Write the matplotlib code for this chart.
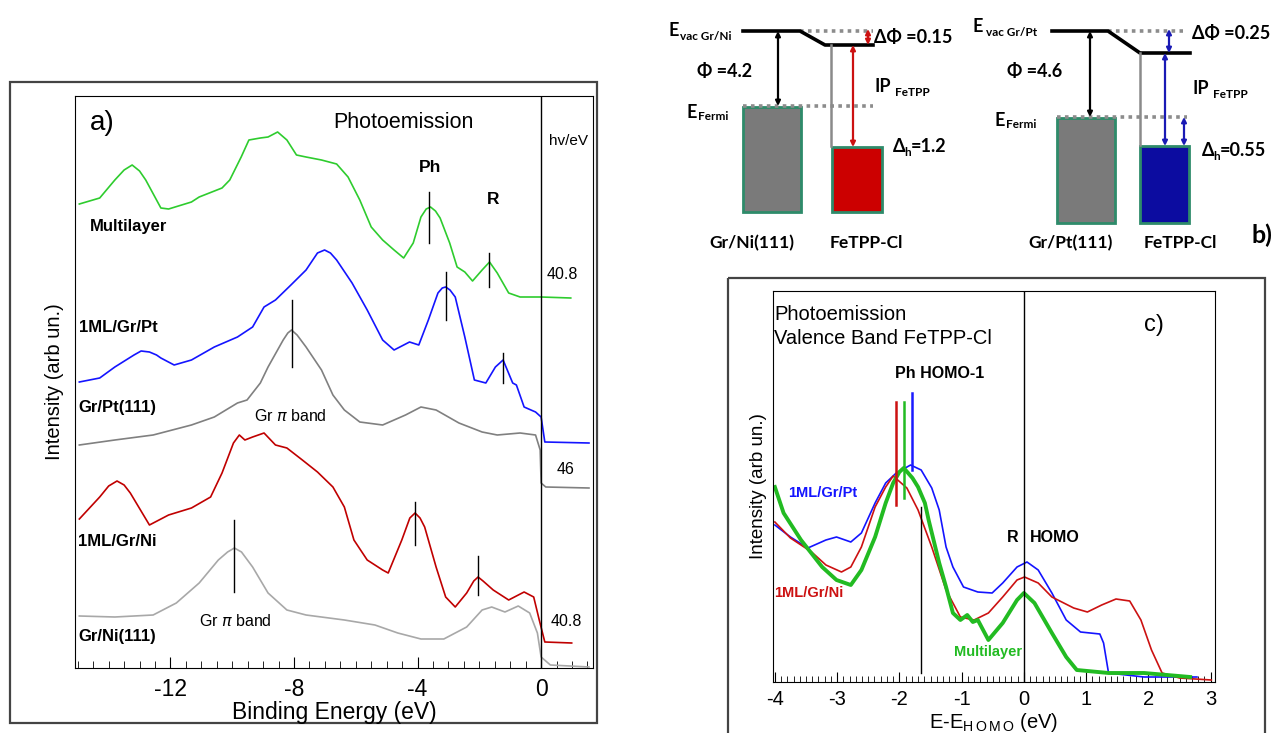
import matplotlib.pyplot as plt
from matplotlib.patches import Rectangle
from matplotlib.ticker import MultipleLocator

plt.rcParams['font.family'] = ['Liberation Sans', 'DejaVu Sans']

W, H = 1276, 733

# ---------------- panel a) : valence band, binding energy (eV) / intensity (arb. un.)
ml_x = [-14.95, -14.29, -13.8, -13.5, -13.24, -13.0, -12.8, -12.31, -12.06, -11.32, -11.07, -10.33, -10.08, -9.71,
        -9.46, -9.09, -8.84, -8.53, -8.23, -7.92, -7.61, -7.11, -6.62, -6.25, -5.87, -5.5, -5.13, -4.76, -4.45,
        -4.14, -3.89, -3.72, -3.58, -3.42, -3.27, -2.96, -2.72, -2.47, -2.22, -1.91, -1.67, -1.42, -1.05, -0.68,
        0, 0.96]
ml_y = [464, 470, 488, 498, 503, 497, 488, 460, 459, 466, 471, 480, 488, 511, 528, 530, 531, 536, 528, 513, 511,
        508, 504, 491, 468, 441, 428, 418, 410, 425, 451, 459, 461, 457, 450, 425, 401, 396, 387, 398, 406, 395,
        375, 371, 371, 370]

pt_x = [-14.95, -14.29, -13.8, -13.18, -12.95, -12.68, -12.45, -12.31, -11.88, -11.32, -10.58, -9.83, -9.34,
        -8.97, -8.6, -8.1, -7.61, -7.24, -7.01, -6.82, -6.62, -6.12, -5.63, -5.13, -4.76, -4.26, -3.96, -3.65,
        -3.34, -3.2, -3.09, -2.95, -2.78, -2.47, -2.16, -1.79, -1.48, -1.23, -0.92, -0.8, -0.55, -0.18, 0,
        0.12, 1.55]
pt_y = [286, 290, 301, 313, 317, 316, 313, 310, 303, 308, 321, 331, 341, 361, 368, 383, 398, 415, 418, 415, 408,
        385, 358, 328, 318, 326, 323, 348, 375, 380, 381, 378, 371, 331, 288, 285, 301, 308, 285, 283, 261, 256,
        251, 226, 225]

grpt_x = [-14.95, -13.8, -12.56, -11.32, -10.58, -9.83, -9.52, -9.09, -8.84, -8.35, -8.2, -8.08, -7.9, -7.61,
          -7.11, -6.74, -6.37, -5.87, -5.13, -4.39, -3.89, -3.4, -2.66, -1.91, -1.42, -0.68, -0.18, -0.03, 0,
          0.15, 1.55]
grpt_y = [223, 228, 233, 243, 251, 265, 268, 285, 301, 328, 335, 338, 333, 321, 298, 273, 258, 246, 243, 253,
          261, 258, 245, 236, 233, 235, 233, 218, 185, 181, 180]

ni_x = [-14.95, -14.29, -14.0, -13.73, -13.5, -13.3, -12.68, -12.06, -11.32, -10.7, -10.33, -9.96, -9.77, -9.59,
        -9.34, -8.97, -8.6, -8.23, -7.73, -7.24, -6.74, -6.37, -6.06, -5.63, -5.13, -4.95, -4.51, -4.25, -4.08,
        -3.92, -3.77, -3.4, -3.09, -2.78, -2.41, -2.18, -2.04, -1.88, -1.55, -1.05, -0.55, -0.24, -0.06, 0.12,
        0.99]
ni_y = [149, 171, 182, 187, 183, 175, 143, 153, 160, 171, 195, 225, 233, 228, 231, 235, 223, 220, 208, 196, 181,
        161, 128, 108, 98, 95, 128, 150, 155, 150, 141, 101, 71, 61, 75, 87, 91, 87, 78, 68, 76, 71, 48, 26, 25]

grni_x = [-14.95, -13.8, -12.56, -11.81, -11.07, -10.45, -10.15, -9.93, -9.7, -9.34, -8.84, -8.23, -7.61, -6.37,
          -5.38, -4.64, -3.89, -3.15, -2.41, -1.91, -1.6, -1.17, -0.74, -0.37, -0.12, 0, 0.3, 1.55]
grni_y = [52, 51, 53, 65, 85, 108, 116, 120, 116, 101, 75, 58, 53, 48, 43, 35, 29, 29, 41, 58, 61, 56, 62, 55,
          35, 11, 3, 1]

# peak markers (energy, y from, y to)
a_marks = [(-3.62, 425, 476), (-1.69, 381, 415), (-3.09, 348, 396), (-1.23, 285, 315),
           (-8.08, 301, 368), (-4.08, 123, 166), (-2.04, 73, 112), (-9.93, 76, 148)]

# ---------------- panel c) : E - E_HOMO (eV)
cml_x = [-4.0, -3.86, -3.58, -3.24, -3.01, -2.78, -2.61, -2.39, -2.22, -2.1, -2.0, -1.93, -1.79, -1.7, -1.59,
         -1.53, -1.36, -1.25, -1.14, -1.02, -0.91, -0.82, -0.74, -0.57, -0.34, -0.11, 0, 0.17, 0.45, 0.68, 0.85,
         1.36, 1.93, 2.67]
cml_y = [195, 169, 142, 115, 102, 97, 112, 145, 179, 199, 210, 214, 204, 195, 179, 162, 119, 95, 69, 62, 67, 60,
         62, 42, 59, 82, 89, 79, 49, 25, 12, 9, 9, 5]

cpt_x = [-4.0, -3.75, -3.47, -3.18, -3.01, -2.78, -2.61, -2.39, -2.22, -2.05, -1.82, -1.65, -1.48, -1.36, -1.25,
         -1.14, -0.97, -0.74, -0.51, -0.34, -0.11, 0.05, 0.23, 0.45, 0.68, 0.91, 1.22, 1.28, 1.36, 1.93, 2.78]
cpt_y = [157, 145, 134, 142, 145, 140, 149, 179, 199, 209, 217, 212, 194, 172, 135, 115, 95, 90, 89, 99, 115, 120,
         112, 89, 62, 50, 48, 39, 9, 5, 5]

cni_x = [-4.0, -3.75, -3.41, -3.18, -2.93, -2.78, -2.61, -2.39, -2.22, -2.1, -1.88, -1.7, -1.48, -1.25, -1.02,
         -0.8, -0.57, -0.34, -0.11, 0.01, 0.23, 0.45, 0.8, 1.02, 1.25, 1.48, 1.7, 1.88, 2.05, 2.22, 2.5, 3.01]
cni_y = [160, 144, 130, 117, 110, 115, 135, 175, 195, 206, 194, 172, 135, 92, 65, 62, 69, 85, 102, 105, 99, 85,
         74, 70, 77, 83, 81, 62, 32, 9, 4, 2]

c_marks = [(-2.05, 177, 280, '#cc1111'), (-1.93, 184, 280, '#22bb22'), (-1.8, 212, 289, '#1a1aff'),
           (-1.65, 9, 175, 'k')]

# ---------------- panel b) : energy level schemes
b_phi = [4.2, 4.6]
b_dphi = [0.15, 0.25]
b_dh = [1.2, 0.55]
b_tag = ['Gr/Ni', 'Gr/Pt']
b_sub = ['Gr/Ni(111)', 'Gr/Pt(111)']
b_fill = ['#cc0000', '#0c0ca0']
b_arrow = ['#cc1111', '#1a1ab5']

GREEN = '#2ecc2e'
BLUE = '#1414ff'
RED = '#cc1111'

fig = plt.figure(figsize=(W / 100, H / 100), dpi=100)


def px_axes(l, t, r, b):
    return fig.add_axes([l / W, 1 - b / H, (r - l) / W, (b - t) / H])


bg = fig.add_axes([0, 0, 1, 1])
bg.set_xlim(0, W)
bg.set_ylim(H, 0)
bg.axis('off')
bg.add_patch(Rectangle((10, 82), 587, 641, fill=False, ec='#444444', lw=1.6))
bg.add_patch(Rectangle((728, 278), 537, 480, fill=False, ec='#444444', lw=1.6))

# ---- a)
axa = px_axes(75, 96, 593, 668)
axa.set_facecolor('none')
axa.plot(ml_x, ml_y, color=GREEN, lw=1.2)
axa.plot(pt_x, pt_y, color=BLUE, lw=1.2)
axa.plot(grpt_x, grpt_y, color='#808080', lw=1.2)
axa.plot(ni_x, ni_y, color='#c00000', lw=1.2)
axa.plot(grni_x, grni_y, color='#a8a8a8', lw=1.2)
axa.axvline(0, color='k', lw=1)
for x, y0, y1 in a_marks:
    axa.plot([x, x], [y0, y1], color='k', lw=1)
axa.set_xlim(-15.09, 1.68)
axa.set_ylim(0, 572)
axa.set_yticks([])
axa.set_xticks([-12, -8, -4, 0])
axa.set_xticklabels(['-12', '-8', '-4', '0'])
axa.xaxis.set_minor_locator(MultipleLocator(0.5))
axa.tick_params(axis='x', which='major', direction='in', length=8, labelsize=16.5, pad=7)
axa.tick_params(axis='x', which='minor', direction='in', length=5)
axa.set_xlabel('Binding Energy (eV)', fontsize=16.5, labelpad=0)
axa.set_ylabel('Intensity (arb un.)', fontsize=14.5, labelpad=8)

axa.text(-14.2, 545, 'a)', fontsize=20, ha='center', va='center')
axa.text(-4.45, 546, 'Photoemission', fontsize=15.5, ha='center', va='center')
axa.text(0.9, 527, 'hv/eV', fontsize=11, ha='center', va='center')
axa.text(-3.58, 500, 'Ph', fontsize=12.5, weight='bold', ha='center', va='center')
axa.text(-1.54, 468, 'R', fontsize=12.5, weight='bold', ha='center', va='center')
axa.text(-14.6, 441, 'Multilayer', fontsize=12, weight='bold', va='center')
axa.text(0.19, 393, '40.8', fontsize=11.5, va='center')
axa.text(-14.97, 340, '1ML/Gr/Pt', fontsize=12, weight='bold', va='center')
axa.text(-14.97, 260, 'Gr/Pt(111)', fontsize=12, weight='bold', va='center')
axa.text(-9.28, 252, r'Gr $\pi$ band', fontsize=11.5, va='center')
axa.text(0.5, 198, '46', fontsize=11.5, va='center')
axa.text(-15.0, 126, '1ML/Gr/Ni', fontsize=12, weight='bold', va='center')
axa.text(-11.07, 47, r'Gr $\pi$ band', fontsize=11.5, va='center')
axa.text(-14.97, 31, 'Gr/Ni(111)', fontsize=12, weight='bold', va='center')
axa.text(0.31, 46, '40.8', fontsize=11.5, va='center')

# ---- c)
axc = px_axes(773, 291, 1215, 682)
axc.set_facecolor('none')
axc.plot(cpt_x, cpt_y, color=BLUE, lw=1.2)
axc.plot(cni_x, cni_y, color=RED, lw=1.2)
axc.plot(cml_x, cml_y, color='#22bb22', lw=2.8)
axc.axvline(0, color='k', lw=1)
for x, y0, y1, c in c_marks:
    axc.plot([x, x], [y0, y1], color=c, lw=1.8 if c != 'k' else 1)
axc.set_xlim(-4.03, 3.07)
axc.set_ylim(0, 391)
axc.set_yticks([])
axc.set_xticks(range(-4, 4))
axc.set_xticklabels(['-4', '-3', '-2', '-1', '0', '1', '2', '3'])
axc.xaxis.set_minor_locator(MultipleLocator(0.1))
axc.tick_params(axis='x', which='major', direction='in', length=7, labelsize=14.5, pad=6)
axc.tick_params(axis='x', which='minor', direction='in', length=4)
axc.set_xlabel(r'E-E$_{\mathregular{H\,O\,M\,O}}$ (eV)', fontsize=14.5, labelpad=1)
axc.set_ylabel('Intensity (arb un.)', fontsize=13.5, labelpad=4)

axc.text(-4.01, 367, 'Photoemission', fontsize=14.5, va='center')
axc.text(-4.01, 344, 'Valence Band FeTPP-Cl', fontsize=14.5, va='center')
axc.text(2.09, 357, 'c)', fontsize=17, ha='center', va='center')
axc.text(-1.35, 309, 'Ph HOMO-1', fontsize=11.5, weight='bold', ha='center', va='center')
axc.text(-3.79, 189, '1ML/Gr/Pt', fontsize=10.5, weight='bold', color=BLUE, va='center')
axc.text(-4.01, 89, '1ML/Gr/Ni', fontsize=10.5, weight='bold', color=RED, va='center')
axc.text(-1.12, 30, 'Multilayer', fontsize=10.5, weight='bold', color='#22bb22', va='center')
axc.text(-0.08, 144, 'R', fontsize=11.5, weight='bold', ha='right', va='center')
axc.text(0.1, 144, 'HOMO', fontsize=11.5, weight='bold', va='center')

# ---- b) two level schemes (figure pixel frame)
bf = ['Lato', 'DejaVu Sans']
b_layout = [
    dict(ex=668, ey=30, sx=680, sy=36, vac_x=[743, 800, 825, 873], vac_y=[31, 31, 45, 45], dot_vac=(800, 873),
         fermi=106, dot_f=(743, 873), phi_x=778, phi_t=(697, 72), ef=(687, 113), sub=(743, 801), bot=212,
         mol=(832, 882), homo=147, gray_x=831, ip_x=853, dphi_x=868, dh_x=None, dphi_t=(874, 38),
         ip_t=(874, 87), dh_t=(893, 147), sub_c=752, mol_c=866),
    dict(ex=973, ey=26, sx=986, sy=33, vac_x=[1052, 1108, 1140, 1190], vac_y=[31, 31, 53, 53],
         dot_vac=(1108, 1183), fermi=117, dot_f=(1057, 1187), phi_x=1090, phi_t=(1007, 72), ef=(995, 120),
         sub=(1057, 1115), bot=223, mol=(1140, 1189), homo=146, gray_x=1140, ip_x=1165, dphi_x=1169,
         dh_x=1184, dphi_t=(1192, 34), ip_t=(1192, 88), dh_t=(1202, 150), sub_c=1071, mol_c=1180),
]


def arrow(x, y0, y1, c):
    bg.annotate('', xy=(x, y1), xytext=(x, y0),
                arrowprops=dict(arrowstyle='<|-|>', color=c, lw=1.6, mutation_scale=7, shrinkA=0, shrinkB=0))


for i, L in enumerate(b_layout):
    ac = b_arrow[i]
    bg.text(L['ex'], L['ey'], 'E', family=bf, fontsize=13, weight='bold', va='center')
    bg.text(L['sx'], L['sy'], 'vac ' + b_tag[i], family=bf, fontsize=8.5, weight='bold', va='center')
    bg.plot(L['dot_vac'], [L['vac_y'][0]] * 2, color='#8c8c8c', lw=2.6, ls=(0, (1, 1.2)))
    bg.plot(L['dot_f'], [L['fermi']] * 2, color='#8c8c8c', lw=2.6, ls=(0, (1, 1.2)))
    bg.plot(L['vac_x'], L['vac_y'], color='k', lw=2.6)
    bg.add_patch(Rectangle((L['sub'][0], L['fermi'] + 1), L['sub'][1] - L['sub'][0], L['bot'] - L['fermi'] - 1,
                           fc='#7a7a7a', ec='#2e8b6a', lw=2))
    bg.add_patch(Rectangle((L['mol'][0], L['homo']), L['mol'][1] - L['mol'][0], L['bot'] - L['homo'],
                           fc=b_fill[i], ec='#2e8b6a', lw=2))
    bg.plot([L['gray_x']] * 2, [L['vac_y'][2], L['homo'] - 1], color='#8a8a8a', lw=1.8)
    arrow(L['phi_x'], L['vac_y'][0], L['fermi'], 'k')
    arrow(L['ip_x'], L['vac_y'][2], L['homo'], ac)
    arrow(L['dphi_x'], L['vac_y'][0] - 2, L['vac_y'][2], ac)
    if L['dh_x']:
        arrow(L['dh_x'], L['fermi'], L['homo'], ac)
    bg.text(*L['phi_t'], '\u03a6 =%.1f' % b_phi[i], family=bf, fontsize=13, weight='bold', va='center')
    bg.text(L['ef'][0], L['ef'][1], 'E', family=bf, fontsize=13, weight='bold', va='center')
    bg.text(L['ef'][0] + 11, L['ef'][1] + 4, 'Fermi', family=bf, fontsize=8.5, weight='bold', va='center')
    bg.text(*L['dphi_t'], '\u0394\u03a6 =%g' % b_dphi[i], family=bf, fontsize=13, weight='bold', va='center')
    bg.text(*L['ip_t'], 'IP', family=bf, fontsize=13, weight='bold', va='center')
    bg.text(L['ip_t'][0] + 21, L['ip_t'][1] + 6, 'FeTPP', family=bf, fontsize=8.5, weight='bold', va='center')
    bg.text(*L['dh_t'], '\u0394', family=bf, fontsize=13, weight='bold', va='center')
    bg.text(L['dh_t'][0] + 11, L['dh_t'][1] + 6, 'h', family=bf, fontsize=8.5, weight='bold', va='center')
    bg.text(L['dh_t'][0] + 18, L['dh_t'][1], '=%g' % b_dh[i], family=bf, fontsize=13, weight='bold',
            va='center')
    bg.text(L['sub_c'], 243, b_sub[i], family=bf, fontsize=12.5, weight='bold', ha='center', va='center')
    bg.text(L['mol_c'], 243, 'FeTPP-Cl', family=bf, fontsize=12.5, weight='bold', ha='center', va='center')

bg.text(1262, 235, 'b)', family=bf, fontsize=18, weight='bold', ha='center', va='center')

fig.savefig('out.png', dpi=100)
